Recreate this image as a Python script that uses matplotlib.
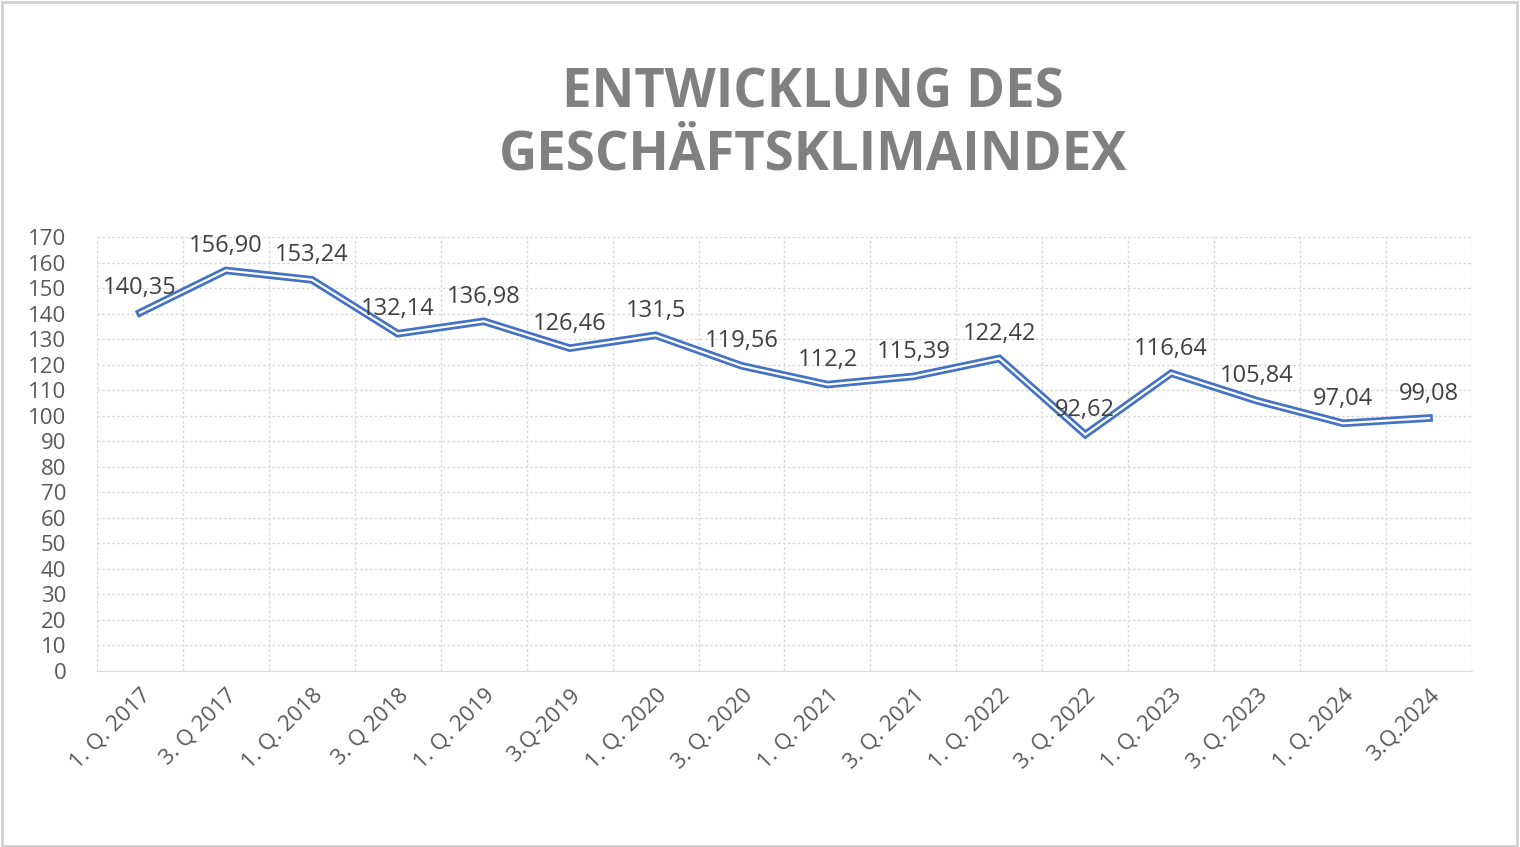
import matplotlib.pyplot as plt

# data
quarters = ["1. Q. 2017", "3. Q 2017", "1. Q. 2018", "3. Q 2018", "1. Q. 2019",
            "3.Q-2019", "1. Q. 2020", "3. Q. 2020", "1. Q. 2021", "3. Q. 2021",
            "1. Q. 2022", "3. Q. 2022", "1. Q. 2023", "3. Q. 2023", "1. Q. 2024",
            "3.Q.2024"]
index_values = [140.35, 156.90, 153.24, 132.14, 136.98, 126.46, 131.5, 119.56,
                112.2, 115.39, 122.42, 92.62, 116.64, 105.84, 97.04, 99.08]
value_labels = ["140,35", "156,90", "153,24", "132,14", "136,98", "126,46", "131,5",
                "119,56", "112,2", "115,39", "122,42", "92,62", "116,64", "105,84",
                "97,04", "99,08"]

plt.rcParams["font.family"] = "Open Sans"
fig = plt.figure(figsize=(15.2, 8.47), dpi=100)
ax = fig.add_axes([97 / 1520, 1 - 671 / 847, 1375 / 1520, 434 / 847])

x = range(len(quarters))
ax.plot(x, index_values, color="#4472C4", lw=5.5, solid_joinstyle="miter", zorder=3)
ax.plot(x, index_values, color="white", lw=1.6, solid_joinstyle="miter", zorder=4)

for i, (v, t) in enumerate(zip(index_values, value_labels)):
    ax.annotate(t, (i, v), xytext=(0, 9), textcoords="offset points",
                ha="center", va="bottom", fontsize=17, color="#404040", zorder=5)

ax.set_xlim(-0.5, len(quarters) - 0.5)
ax.set_ylim(0, 170)
ax.set_yticks(range(0, 171, 10))
ax.set_xticks(list(x))
ax.set_xticklabels(quarters, rotation=45, ha="right", rotation_mode="anchor",
                   fontsize=16, color="#595959")
ax.tick_params(axis="y", labelsize=16, labelcolor="#595959", length=0, pad=22)
ax.tick_params(axis="x", length=0, pad=10)

# grid: horizontal at ticks, vertical at category boundaries
for yv in range(10, 171, 10):
    ax.axhline(yv, color="#D9D9D9", lw=1, ls=(0, (2, 1.5)), zorder=1)
for b in range(len(quarters) + 1):
    ax.axvline(b - 0.5, color="#D9D9D9", lw=1, ls=(0, (2, 1.5)), zorder=1)
for s in ["top", "right", "left"]:
    ax.spines[s].set_visible(False)
ax.spines["bottom"].set_color("#D9D9D9")

fig.text(0.535, 0.853, "ENTWICKLUNG DES\nGESCHÄFTSKLIMAINDEX", ha="center", va="center",
         fontsize=38, fontweight="bold", color="#808080", linespacing=1.2)
fig.patches.append(plt.Rectangle((0.001, 0.001), 0.997, 0.997, transform=fig.transFigure,
                                 fill=False, ec="#D0D0D0", lw=2))

fig.savefig("out.png", dpi=100)
